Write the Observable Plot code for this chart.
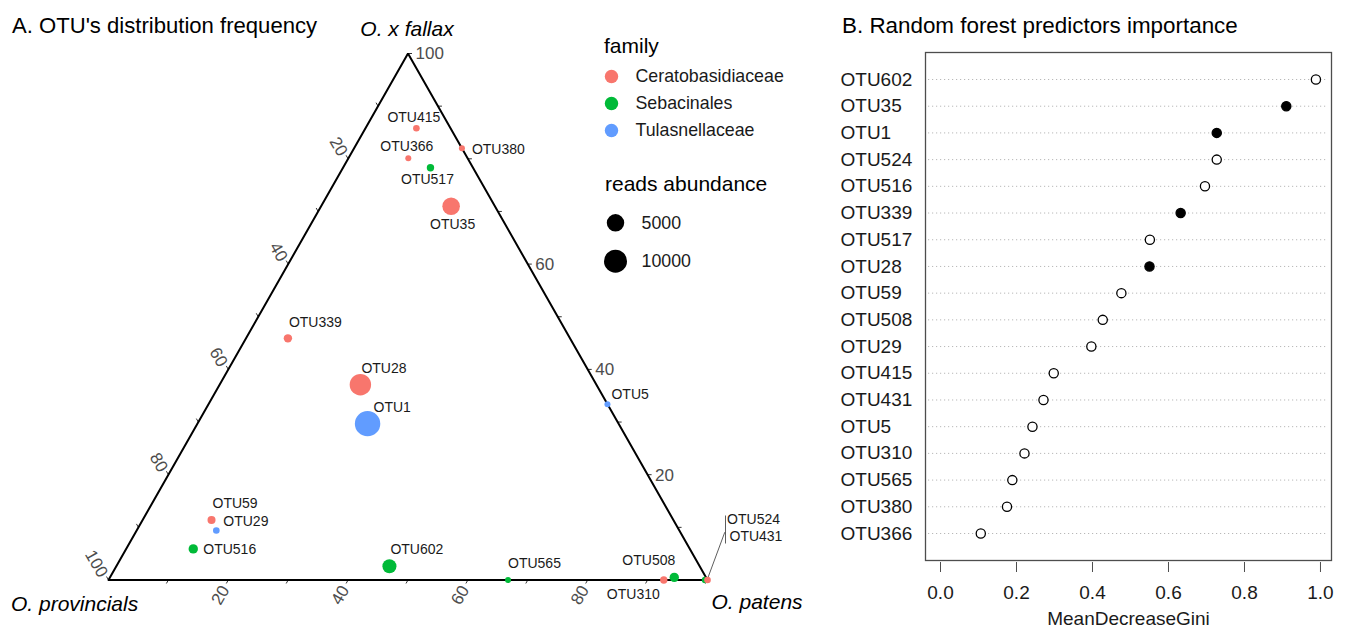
<!DOCTYPE html>
<html><head><meta charset="utf-8">
<script src="https://cdn.jsdelivr.net/npm/d3@7"></script>
<script src="https://cdn.jsdelivr.net/npm/@observablehq/plot@0.6"></script>
<style>
body{margin:0;background:#fff}
#root{position:relative;width:1345px;height:628px;overflow:hidden;background:#fff;font-family:"Liberation Sans",Arial,Helvetica,sans-serif;color:#000}
.abs{position:absolute;white-space:nowrap;line-height:1}
</style></head><body>
<div id="root">
 <div id="tern" class="abs" style="left:0;top:0;width:830px;height:628px"></div>
 <div id="legFam" class="abs" style="left:590px;top:60px;width:220px;height:100px"></div>
 <div id="legSize" class="abs" style="left:590px;top:200px;width:200px;height:90px"></div>
 <div id="rf" class="abs" style="left:830px;top:0;width:515px;height:628px"></div>
 <div class="abs" style="left:12px;top:14.5px;font-size:22.1px">A. OTU's distribution frequency</div>
 <div class="abs" style="left:842px;top:14.5px;font-size:22.4px">B. Random forest predictors importance</div>
 <div class="abs" style="left:604px;top:35px;font-size:21px">family</div>
 <div class="abs" style="left:605px;top:173px;font-size:21px">reads abundance</div>
</div>
<script>
// ---------- Panel A data (ternary) ----------
const otuNames   = ["OTU415","OTU366","OTU380","OTU517","OTU35","OTU339","OTU28","OTU1","OTU5","OTU59","OTU29","OTU516","OTU602","OTU565","OTU310","OTU508","OTU524","OTU431"];
const otuFamily  = ["Ceratobasidiaceae","Ceratobasidiaceae","Ceratobasidiaceae","Sebacinales","Ceratobasidiaceae","Ceratobasidiaceae","Ceratobasidiaceae","Tulasnellaceae","Tulasnellaceae","Ceratobasidiaceae","Tulasnellaceae","Sebacinales","Sebacinales","Sebacinales","Ceratobasidiaceae","Sebacinales","Sebacinales","Ceratobasidiaceae"];
const fallax      = [85.8, 80.1, 82.0, 78.3, 71.0, 45.9, 37.1, 29.7, 33.4, 11.4,  9.4,  5.9,  2.6,  0.0,  0.0,  0.5,  0.0,   0.0];
const patens      = [ 8.5, 10.0, 18.0, 14.6, 21.7,  7.0, 23.5, 28.4, 66.6, 11.5, 13.3, 11.2, 45.6, 66.7, 92.7, 94.2, 99.6, 100.0];
const provincials = [ 5.7,  9.9,  0.0,  7.1,  7.3, 47.1, 39.4, 41.9,  0.0, 77.1, 77.3, 82.9, 51.8, 33.3,  7.3,  5.3,  0.4,   0.0];
const reads       = [190, 110, 110, 320, 5100, 540, 8400, 12700, 110, 450, 190, 800, 2800, 110, 320, 800, 190, 190];
const families    = ["Ceratobasidiaceae","Sebacinales","Tulasnellaceae"];
const famColors   = ["#F8766D","#00BA38","#619CFF"];
const sizeBreaks  = [5000, 10000];
const tickMarks   = [10,20,30,40,50,60,70,80,90,100];
const leftLabels  = [20,40,60,80,100];   // O. provincials
const rightLabels = [20,40,60,100];      // O. x fallax
const bottomLabels= [20,40,60,80];       // O. patens

// ---------- Panel B data (random forest) ----------
const rfOtus = ["OTU602","OTU35","OTU1","OTU524","OTU516","OTU339","OTU517","OTU28","OTU59","OTU508","OTU29","OTU415","OTU431","OTU5","OTU310","OTU565","OTU380","OTU366"];
const gini   = [0.988,0.910,0.727,0.727,0.696,0.632,0.551,0.550,0.476,0.427,0.397,0.298,0.271,0.242,0.221,0.189,0.175,0.106];
const signif = [false,true,true,false,false,true,false,true,false,false,false,false,false,false,false,false,false,false];
const xTicks = [0,0.2,0.4,0.6,0.8,1.0];

// label nudges (pixels, relative to point) and anchors
const labelNudge = {
  OTU415:["middle",-2.5,-11], OTU366:["middle",-1.5,-12], OTU380:["start",10,1], OTU517:["middle",-3,12],
  OTU35:["middle",1.5,18], OTU339:["start",1,-16], OTU28:["start",1,-16], OTU1:["start",6,-16],
  OTU5:["start",4,-10], OTU59:["start",1,-16], OTU29:["start",7,-9], OTU516:["start",10,1],
  OTU602:["start",1,-17], OTU565:["start",0,-16], OTU508:["end",1,-17], OTU310:["end",-4,15],
  OTU524:["start",22,-60], OTU431:["start",22,-43]
};

const FONT = "Liberation Sans, Arial, Helvetica, sans-serif";
const X0=108, X1=707, Y0=579.5, Y1=53;
const tx = (p,f) => p/100 + f/200;
const ty = f => f/100;
const nudge = (x,y,dxp,dyp) => [x + dxp/(X1-X0), y - dyp/(Y0-Y1)];
const rScale = {type:"sqrt", domain:[0,10000], range:[2,11.5]};
const colorScale = {domain:families, range:famColors};

const pts = otuNames.map((otu,i)=>({otu, family:otuFamily[i], x:tx(patens[i],fallax[i]), y:ty(fallax[i]), reads:reads[i]}));
const labs = pts.map(d=>{const [a,dx,dy]=labelNudge[d.otu]; const [lx,ly]=nudge(d.x,d.y,dx,dy); return {otu:d.otu, anchor:a, lx, ly};});

const vL={x:tx(0,0),y:ty(0)}, vR={x:tx(100,0),y:ty(0)}, vT={x:tx(0,100),y:ty(100)};
const tri=[vL,vR,vT,vL,vR];

// tick marks
const tickSegs=[];
const TL=4;
for (const t of tickMarks){
  let x=tx(t,0), y=ty(0); let e=nudge(x,y,-0.5*TL,0.866*TL); tickSegs.push({x1:x,y1:y,x2:e[0],y2:e[1]});
  x=tx(100-t,t); y=ty(t); e=nudge(x,y,TL,0); tickSegs.push({x1:x,y1:y,x2:e[0],y2:e[1]});
  x=tx(0,100-t); y=ty(100-t); e=nudge(x,y,-0.5*TL,-0.866*TL); tickSegs.push({x1:x,y1:y,x2:e[0],y2:e[1]});
}
// leader lines for OTU524 / OTU431
const vtx = pts.find(d=>d.otu==="OTU431");
const leaderDefs=[[0.5,-2.5,17.3,-47.8],[18,-64.5,18,-36.5]];
const leaders = leaderDefs.map(([a,b,c,d])=>{const s=nudge(vtx.x,vtx.y,a,b), e=nudge(vtx.x,vtx.y,c,d); return {x1:s[0],y1:s[1],x2:e[0],y2:e[1]};});

const tern = Plot.plot({
  width:830, height:628, margin:0,
  style:{background:"none", fontFamily:FONT, fontSize:"14px"},
  x:{domain:[0,1], range:[X0,X1], axis:null},
  y:{domain:[0,1], range:[Y0,Y1], axis:null},
  r:rScale, color:colorScale,
  marks:[
    Plot.link(tickSegs,{x1:"x1",y1:"y1",x2:"x2",y2:"y2",stroke:"#333",strokeWidth:1}),
    Plot.line(tri,{x:"x",y:"y",stroke:"black",strokeWidth:2,strokeLinejoin:"miter"}),
    Plot.text(leftLabels,{x:t=>tx(0,100-t), y:t=>ty(100-t), text:t=>String(t), rotate:60, textAnchor:"end", dx:-5, dy:-4, fill:"#4d4d4d", fontSize:17}),
    Plot.text(bottomLabels,{x:t=>tx(t,0), y:()=>ty(0), text:t=>String(t), rotate:-60, textAnchor:"end", dx:-3, dy:7, fill:"#4d4d4d", fontSize:17}),
    Plot.text(rightLabels,{x:t=>tx(100-t,t), y:t=>ty(t), text:t=>String(t), textAnchor:"start", dx:7.5, dy:0.5, fill:"#4d4d4d", fontSize:17}),
    Plot.link(leaders,{x1:"x1",y1:"y1",x2:"x2",y2:"y2",stroke:"#333",strokeWidth:0.8}),
    Plot.dot(pts,{x:"x",y:"y",r:"reads",fill:"family"}),
    Plot.text(labs.filter(d=>d.anchor==="middle"),{x:"lx",y:"ly",text:"otu",textAnchor:"middle",fill:"#1a1a1a",fontSize:14}),
    Plot.text(labs.filter(d=>d.anchor==="start"),{x:"lx",y:"ly",text:"otu",textAnchor:"start",fill:"#1a1a1a",fontSize:14}),
    Plot.text(labs.filter(d=>d.anchor==="end"),{x:"lx",y:"ly",text:"otu",textAnchor:"end",fill:"#1a1a1a",fontSize:14}),
    Plot.text([vT],{x:"x",y:"y",text:()=>"O. x fallax",fontStyle:"italic",fontSize:21,dx:-1,dy:-24.7}),
    Plot.text([vL],{x:"x",y:"y",text:()=>"O. provincials",fontStyle:"italic",fontSize:21,textAnchor:"end",dx:29.7,dy:23.8}),
    Plot.text([vR],{x:"x",y:"y",text:()=>"O. patens",fontStyle:"italic",fontSize:21,textAnchor:"start",dx:4,dy:22})
  ]
});
document.getElementById("tern").appendChild(tern);

const legFam = Plot.plot({
  width:220, height:100, margin:0,
  style:{background:"none", fontFamily:FONT},
  x:{domain:[0,1], axis:null},
  y:{type:"point", domain:families, range:[16,70], padding:0, round:false, axis:null},
  color:colorScale,
  marks:[
    Plot.dot(families,{y:d=>d, frameAnchor:"left", dx:21, r:6.7, fill:d=>d}),
    Plot.text(families,{y:d=>d, text:d=>d, frameAnchor:"left", dx:45, textAnchor:"start", fontSize:17.8, fill:"#1a1a1a"})
  ]
});
document.getElementById("legFam").appendChild(legFam);

const legSize = Plot.plot({
  width:200, height:90, margin:0,
  style:{background:"none", fontFamily:FONT},
  x:{domain:[0,1], axis:null},
  y:{type:"point", domain:sizeBreaks, range:[22.3,60.7], padding:0, round:false, axis:null},
  r:rScale,
  marks:[
    Plot.dot(sizeBreaks,{y:d=>d, r:d=>d, frameAnchor:"left", dx:25, fill:"black"}),
    Plot.text(sizeBreaks,{y:d=>d, text:d=>String(d), frameAnchor:"left", dx:51, textAnchor:"start", fontSize:17.8, fill:"#1a1a1a"})
  ]
});
document.getElementById("legSize").appendChild(legSize);

const rf = rfOtus.map((otu,i)=>({otu, gini:gini[i], sig:signif[i]}));
const rfPlot = Plot.plot({
  width:515, height:628, marginLeft:95, marginRight:14, marginTop:52, marginBottom:68,
  style:{background:"none", fontFamily:FONT, fontSize:"19px"},
  x:{domain:[-0.0395,1.029], axis:null},
  y:{type:"point", domain:rfOtus, range:[79,533], padding:0, round:false, axis:null},
  marks:[
    Plot.ruleY(rfOtus,{y:d=>d, stroke:"#b8b8b8", strokeDasharray:"1.2,2.8", insetLeft:3, insetRight:4}),
    Plot.frame({stroke:"#4d4d4d", strokeWidth:1.3}),
    Plot.axisX({ticks:xTicks, tickFormat:d3.format(".1f"), tickSize:10, tickPadding:13, dy:2, label:null, fontSize:19, stroke:"#4d4d4d", fill:"#1a1a1a"}),
    Plot.dot(rf,{x:"gini", y:"otu", r:4.6, stroke:"black", strokeWidth:1.3, fill:d=>d.sig?"black":"white"}),
    Plot.text(rfOtus,{y:d=>d, text:d=>d, frameAnchor:"left", dx:-85, textAnchor:"start", fontSize:19, fill:"#1a1a1a"}),
    Plot.text(["MeanDecreaseGini"],{frameAnchor:"bottom", lineAnchor:"middle", dy:58, text:d=>d, fontSize:19, fill:"#1a1a1a"})
  ]
});
document.getElementById("rf").appendChild(rfPlot);
</script>
</body></html>
